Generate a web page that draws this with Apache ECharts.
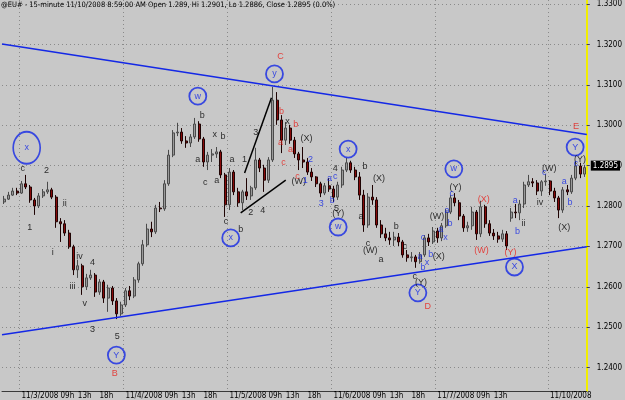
<!DOCTYPE html>
<html>
<head>
<meta charset="utf-8">
<script src="https://cdn.jsdelivr.net/npm/echarts@6/dist/echarts.min.js"></script>
<style>
html,body{margin:0;padding:0;background:#c8c8c8;}
#chart{width:625px;height:400px;}
</style>
</head>
<body>
<div id="chart"></div>
<script>
/* sessions: day, first hour, last hour (hourly bars) */
var sessions=[['11/2/2008',20,23],['11/3/2008',0,23],['11/4/2008',0,23],['11/5/2008',0,23],['11/6/2008',0,23],['11/7/2008',0,16],['11/9/2008',15,23],['11/10/2008',0,8]];
var labelHours=[0,9,13,18];
var priceTicks=[1.24,1.25,1.26,1.27,1.28,1.29,1.30,1.31,1.32,1.33];

/* open, close, low, high */
var ohlc=[
[1.2810,1.2817,1.2805,1.2825],[1.2817,1.2827,1.2815,1.2835],[1.2827,1.2837,1.2825,1.2845],[1.2837,1.2832,1.2827,1.2845],
[1.2832,1.2855,1.2830,1.2862],[1.2855,1.2847,1.2842,1.2877],[1.2847,1.2815,1.2808,1.2852],[1.2815,1.2800,1.2778,1.2820],
[1.2800,1.2825,1.2795,1.2832],[1.2825,1.2835,1.2820,1.2842],[1.2835,1.2840,1.2830,1.2860],[1.2840,1.2822,1.2817,1.2845],
[1.2822,1.2761,1.2746,1.2827],[1.2761,1.2756,1.2711,1.2770],[1.2756,1.2733,1.2726,1.2765],[1.2733,1.2699,1.2694,1.2741],
[1.2699,1.2642,1.2629,1.2704],[1.2642,1.2652,1.2622,1.2667],[1.2652,1.2600,1.2580,1.2657],[1.2600,1.2622,1.2592,1.2632],
[1.2622,1.2629,1.2617,1.2642],[1.2629,1.2587,1.2575,1.2634],[1.2587,1.2612,1.2580,1.2619],[1.2612,1.2572,1.2560,1.2617],
[1.2572,1.2597,1.2538,1.2605],[1.2597,1.2565,1.2555,1.2602],[1.2565,1.2533,1.2520,1.2572],[1.2533,1.2555,1.2528,1.2563],
[1.2555,1.2590,1.2550,1.2597],[1.2590,1.2577,1.2567,1.2602],[1.2577,1.2617,1.2572,1.2624],[1.2617,1.2657,1.2610,1.2662],
[1.2657,1.2704,1.2652,1.2716],[1.2704,1.2743,1.2699,1.2756],[1.2743,1.2736,1.2723,1.2761],[1.2736,1.2795,1.2731,1.2803],
[1.2795,1.2793,1.2785,1.2810],[1.2793,1.2855,1.2788,1.2864],[1.2855,1.2926,1.2850,1.2939],[1.2926,1.2981,1.2921,1.2988],
[1.2981,1.2983,1.2973,1.3006],[1.2983,1.2961,1.2954,1.2993],[1.2961,1.2956,1.2944,1.2973],[1.2956,1.2971,1.2946,1.2978],
[1.2971,1.3003,1.2966,1.3018],[1.3003,1.2966,1.2959,1.3010],[1.2966,1.2909,1.2897,1.2971],[1.2909,1.2926,1.2889,1.2934],
[1.2926,1.2929,1.2909,1.2941],[1.2929,1.2934,1.2919,1.2946],[1.2934,1.2877,1.2869,1.2939],[1.2877,1.2803,1.2773,1.2882],
[1.2803,1.2884,1.2790,1.2894],[1.2884,1.2835,1.2827,1.2889],[1.2835,1.2808,1.2798,1.2845],[1.2808,1.2835,1.2790,1.2840],
[1.2835,1.2825,1.2815,1.2869],[1.2825,1.2845,1.2815,1.2850],[1.2845,1.2914,1.2840,1.2944],[1.2914,1.2894,1.2884,1.2919],
[1.2894,1.2864,1.2835,1.2902],[1.2864,1.2914,1.2857,1.2921],[1.2914,1.3062,1.2909,1.3095],[1.3062,1.3013,1.3001,1.3082],
[1.3013,1.2963,1.2931,1.3025],[1.2963,1.2993,1.2951,1.3008],[1.2993,1.2963,1.2954,1.3001],[1.2963,1.2929,1.2919,1.2971],
[1.2929,1.2914,1.2889,1.2934],[1.2914,1.2909,1.2894,1.2946],[1.2909,1.2884,1.2877,1.2919],[1.2884,1.2872,1.2862,1.2894],
[1.2872,1.2855,1.2847,1.2874],[1.2855,1.2832,1.2822,1.2860],[1.2832,1.2850,1.2827,1.2857],[1.2850,1.2842,1.2835,1.2869],
[1.2842,1.2822,1.2810,1.2850],[1.2822,1.2852,1.2815,1.2860],[1.2852,1.2889,1.2845,1.2897],[1.2889,1.2907,1.2884,1.2919],
[1.2907,1.2889,1.2882,1.2912],[1.2889,1.2872,1.2864,1.2897],[1.2872,1.2827,1.2815,1.2884],[1.2827,1.2753,1.2736,1.2840],
[1.2753,1.2822,1.2746,1.2832],[1.2822,1.2815,1.2803,1.2852],[1.2815,1.2753,1.2746,1.2822],[1.2753,1.2731,1.2721,1.2765],
[1.2731,1.2721,1.2713,1.2746],[1.2721,1.2716,1.2704,1.2736],[1.2716,1.2723,1.2701,1.2736],[1.2723,1.2711,1.2701,1.2733],
[1.2711,1.2679,1.2672,1.2716],[1.2679,1.2672,1.2662,1.2691],[1.2672,1.2674,1.2662,1.2686],[1.2674,1.2662,1.2647,1.2679],
[1.2662,1.2679,1.2657,1.2686],[1.2679,1.2721,1.2674,1.2728],[1.2721,1.2711,1.2701,1.2731],[1.2711,1.2738,1.2706,1.2748],
[1.2738,1.2721,1.2709,1.2746],[1.2721,1.2751,1.2713,1.2758],[1.2751,1.2785,1.2746,1.2793],[1.2785,1.2820,1.2780,1.2827],
[1.2820,1.2808,1.2800,1.2832],[1.2808,1.2775,1.2765,1.2815],[1.2775,1.2746,1.2736,1.2780],[1.2746,1.2751,1.2736,1.2761],
[1.2751,1.2785,1.2741,1.2798],[1.2785,1.2731,1.2716,1.2790],[1.2731,1.2798,1.2723,1.2813],[1.2798,1.2756,1.2746,1.2803],
[1.2756,1.2733,1.2726,1.2765],[1.2733,1.2726,1.2716,1.2743],[1.2726,1.2718,1.2709,1.2736],[1.2718,1.2731,1.2711,1.2741],
[1.2731,1.2701,1.2691,1.2738],[1.2770,1.2785,1.2761,1.2795],[1.2785,1.2783,1.2770,1.2805],[1.2783,1.2805,1.2765,1.2815],
[1.2805,1.2852,1.2795,1.2860],[1.2852,1.2860,1.2847,1.2877],[1.2860,1.2857,1.2847,1.2869],[1.2857,1.2837,1.2827,1.2864],
[1.2837,1.2860,1.2825,1.2864],[1.2860,1.2862,1.2850,1.2879],[1.2862,1.2837,1.2827,1.2864],[1.2837,1.2820,1.2810,1.2845],
[1.2820,1.2790,1.2770,1.2825],[1.2790,1.2840,1.2783,1.2847],[1.2840,1.2835,1.2827,1.2852],[1.2835,1.2869,1.2830,1.2877],
[1.2869,1.2899,1.2864,1.2912],[1.2899,1.2879,1.2869,1.2907],[1.2879,1.2895,1.2872,1.2902]
];

/* trend lines: [bar index, price] end points */
var upperLine=[[-0.5,1.3201],[134.5,1.2977]];
var lowerLine=[[-0.5,1.2481],[134.5,1.2699]];
var wedgeTop=[[55.5,1.2882],[61.7,1.3068]];
var wedgeBottom=[[54.6,1.2783],[65.0,1.2864]];

/* wave labels: [bar index, price, text] */
var blackLabels=[
[4.3,1.2894,'c'],[9.8,1.2889,'2'],[5.9,1.2746,'1'],[14.0,1.2805,'ii'],[11.2,1.2686,'i'],[17.4,1.2676,'iv'],[20.4,1.2659,'4'],
[15.8,1.2600,'iii'],[18.6,1.2558,'v'],[20.4,1.2493,'3'],[26.1,1.2476,'5'],
[45.7,1.3025,'b'],[48.6,1.2978,'x'],[50.5,1.2971,'b'],[44.7,1.2916,'a'],[46.4,1.2857,'c'],[49.1,1.2862,'a'],[52.6,1.2916,'a'],
[51.2,1.2761,'c'],[54.6,1.2743,'b'],[55.5,1.2916,'1'],[58.1,1.2981,'3'],[56.9,1.2783,'2'],[59.7,1.2788,'4'],[65.4,1.3008,'x'],
[69.8,1.2968,'(X)'],[68.0,1.2860,'(W)'],[76.4,1.2892,'4'],[76.7,1.2795,'5'],[77.1,1.2782,'(Y)'],[83.3,1.2897,'b'],
[86.5,1.2867,'(X)'],[82.4,1.2775,'a'],[84.0,1.2706,'c'],[84.5,1.2691,'(W)'],[87.0,1.2667,'a'],[90.5,1.2748,'b'],[92.5,1.2699,'c'],
[94.8,1.2626,'c'],[96.2,1.2611,'(Y)'],[99.9,1.2773,'(W)'],[100.3,1.2674,'(X)'],[104.2,1.2845,'(Y)'],
[119.9,1.2756,'ii'],[123.7,1.2808,'iv'],[125.8,1.2894,'(W)'],[129.3,1.2746,'(X)'],[132.9,1.2916,'(Y)']
];
var redLabels=[
[64.0,1.3035,'b'],[63.8,1.2956,'a'],[64.5,1.2907,'c'],[67.3,1.3001,'b'],[66.1,1.2941,'a'],[67.7,1.2872,'c'],[63.8,1.3169,'C'],
[110.7,1.2815,'(X)'],[110.2,1.2689,'(W)'],[116.9,1.2686,'(Y)'],[132.0,1.2996,'E'],[25.5,1.2385,'B'],[97.8,1.2550,'D']
];
var blueLabels=[
[70.7,1.2916,'2'],[69.5,1.2862,'1'],[73.2,1.2805,'3'],[75.1,1.2869,'a'],[76.4,1.2874,'c'],[75.75,1.2813,'b'],
[96.7,1.2723,'c'],[96.0,1.2676,'a'],[96.7,1.2647,'b'],[97.6,1.2659,'x'],[98.5,1.2681,'b'],[100.8,1.2743,'a'],[101.9,1.2721,'x'],
[102.2,1.2790,'a'],[102.9,1.2756,'b'],[103.3,1.2832,'c'],[118.0,1.2813,'a'],[118.5,1.2738,'b'],[124.7,1.2882,'c'],
[129.3,1.2860,'a'],[130.6,1.2808,'b'],[132.0,1.2904,'c']
];
var circleLabels=[
[25.9,1.2431,'Y'],[44.7,1.3072,'w'],[52.3,1.2721,'x'],[62.4,1.3127,'y'],[79.4,1.2941,'x'],[77.1,1.2748,'w'],
[103.8,1.2892,'w'],[95.5,1.2585,'Y'],[117.8,1.2649,'X'],[131.8,1.2946,'Y']
];
var bigCircleLabels=[[5.2,1.2944,'x']];

var categories=[],catHour=[],catFull=[];
sessions.forEach(function(s){
	for(var h=s[1];h<=s[2];h++){
		categories.push(s[0]+' '+(h<10?'0':'')+h+':00');
		catHour.push(h);
		catFull.push(s[1]===0);
	}
});
function showTick(i){ return catFull[i] && labelHours.indexOf(catHour[i])>=0; }
function dayStart(i){ return catFull[i] && catHour[i]===0; }

var fontMain="'Liberation Sans Narrow','DejaVu Sans Condensed','Liberation Sans',sans-serif";
var lastClose=ohlc[ohlc.length-1][1];

function labelSeries(data,color,size){
	return {
		type:'scatter',xAxisIndex:1,data:data,silent:true,z:6,
		symbolSize:1,itemStyle:{color:'rgba(0,0,0,0)'},
		label:{show:true,position:'inside',formatter:function(p){return p.value[2];},color:color,fontSize:size||9,fontFamily:"'Liberation Sans',sans-serif"}
	};
}
function circleSeries(data,size){
	return {
		type:'scatter',xAxisIndex:1,data:data,silent:true,z:6,
		symbol:'circle',symbolSize:size,
		itemStyle:{color:'rgba(0,0,0,0)',borderColor:'#1428e6',borderWidth:1.8},
		label:{show:true,position:'inside',formatter:function(p){return p.value[2];},color:'#1428e6',fontSize:9,fontFamily:"'Liberation Sans',sans-serif"}
	};
}
function trendSeries(data,color){
	return {type:'line',xAxisIndex:1,data:data,symbol:'none',silent:true,z:5,lineStyle:{color:color,width:1.5}};
}

var chart=echarts.init(document.getElementById('chart'));
chart.setOption({
	animation:false,
	backgroundColor:'#c8c8c8',
	textStyle:{fontFamily:fontMain},
	title:{
		text:'@EU# - 15-minute 11/10/2008 8:59:00 AM Open 1.289, Hi 1.2901, Lo 1.2886, Close 1.2895 (0.0%)',
		left:1,top:1,padding:0,
		textStyle:{fontSize:7.5,fontWeight:'normal',color:'#000',fontFamily:fontMain}
	},
	grid:{left:2,right:35,top:0,bottom:9},
	xAxis:[{
		type:'category',data:categories,boundaryGap:true,
		axisLine:{lineStyle:{color:'#3a3a3a'}},
		axisTick:{interval:showTick,length:3,lineStyle:{color:'#3a3a3a'}},
		axisLabel:{interval:showTick,align:'left',margin:1,fontSize:8,color:'#000',
			formatter:function(v,i){var h=catHour[i];return h===0?v.split(' ')[0]:((h<10?'0':'')+h+'h');}},
		splitLine:{show:true,interval:dayStart,lineStyle:{type:[1,3],color:'#8a8a8a'}}
	},{
		type:'value',min:-0.5,max:134.5,show:false
	}],
	yAxis:{
		type:'value',position:'right',min:1.2342,max:1.331,
		axisLine:{show:true,onZero:false,lineStyle:{color:'#f2ee00',width:2}},
		axisTick:{show:true,customValues:priceTicks,length:3,lineStyle:{color:'#444'}},
		axisLabel:{customValues:priceTicks,formatter:function(v){return v.toFixed(4);},margin:10,fontSize:8,color:'#000'},
		splitLine:{show:false}
	},
	series:[
		{
			type:'line',data:[],silent:true,z:1,
			markLine:{silent:true,symbol:'none',z:1,label:{show:false},
				lineStyle:{type:[1,3],color:'#8a8a8a',width:1},
				data:priceTicks.map(function(v){return {yAxis:v};})}
		},
		{
			type:'candlestick',data:ohlc,barWidth:2.5,z:3,
			itemStyle:{color:'#9a9a9a',color0:'#880a0a',borderColor:'#4a4a4a',borderColor0:'#1e0303',borderWidth:1},
			markLine:{silent:true,symbol:'none',z:7,lineStyle:{color:'rgba(0,0,0,0)',width:0},
				data:[{yAxis:lastClose}],
				label:{show:true,position:'end',distance:4,formatter:function(){return lastClose.toFixed(4);},
					backgroundColor:'#000',color:'#fff',padding:[1,2],fontSize:8}}
		},
		trendSeries(upperLine,'#1428e6'),
		trendSeries(lowerLine,'#1428e6'),
		trendSeries(wedgeTop,'#000'),
		trendSeries(wedgeBottom,'#000'),
		labelSeries(blackLabels,'#000'),
		labelSeries(redLabels,'#e8201c'),
		labelSeries(blueLabels,'#1428e6'),
		circleSeries(circleLabels,17),
		circleSeries(bigCircleLabels,[27,32])
	]
});
</script>
</body>
</html>
